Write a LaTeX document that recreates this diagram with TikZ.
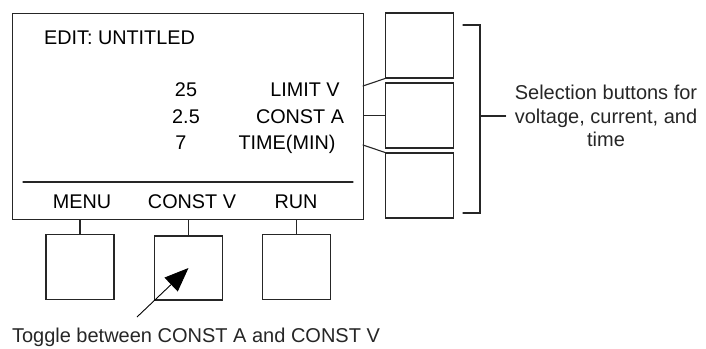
\documentclass[tikz,border=0pt]{standalone}
\usepackage{fontspec}
\setmainfont{Liberation Sans}
\usetikzlibrary{arrows.meta}

\begin{document}
\begin{tikzpicture}[x=1pt,y=-1pt]
\tikzset{
  panelbox/.style={rectangle,draw=black!85,line width=1.1pt,inner sep=0pt,anchor=north west},
  keybox/.style={rectangle,draw=black!85,line width=1.1pt,inner sep=0pt,minimum width=68pt,minimum height=65pt},
  wire/.style={draw=black!85,line width=1.1pt,line cap=round,line join=miter},
  pointer/.style={draw=black,line width=0.9pt,-{Triangle[length=24pt,width=19pt]}},
  lcdtext/.style={font=\fontsize{19.8}{22}\selectfont,text=black,inner sep=0pt,anchor=base},
  notetext/.style={font=\fontsize{20}{23.5}\selectfont,text=black!85,inner sep=0pt}
}
\useasboundingbox (0,0) rectangle (706,348);
\node[panelbox,minimum width=351pt,minimum height=206pt] (n_screen) at (12,13) {};
\node[lcdtext] (n_title) at (119.5,44) {EDIT: UNTITLED};
\node[lcdtext] (n_val_limit) at (186,96) {25};
\node[lcdtext] (n_val_curr) at (186,123) {2.5};
\node[lcdtext] (n_val_time) at (181,149) {7};
\node[lcdtext] (n_lbl_limit) at (305,96) {LIMIT V};
\node[lcdtext] (n_lbl_curr) at (300,123) {CONST A};
\node[lcdtext] (n_lbl_time) at (287,149) {TIME(MIN)};
\draw[wire] (23,182) -- (353,182);
\node[lcdtext] (n_soft_menu) at (82,208) {MENU};
\node[lcdtext] (n_soft_const) at (192,208) {CONST V};
\node[lcdtext] (n_soft_run) at (296,208) {RUN};
\node[keybox] (n_key_menu) at (80,267) {};
\node[keybox,minimum height=64pt] (n_key_const) at (188.5,268) {};
\node[keybox] (n_key_run) at (296.5,267) {};
\node[keybox] (n_key_limit) at (419.5,45.5) {};
\node[keybox] (n_key_curr) at (419.5,115.5) {};
\node[keybox] (n_key_time) at (419.5,185.5) {};
\draw[wire] (n_key_menu.north) -- (n_key_menu.north |- n_screen.south);
\draw[wire] (n_key_const.north) -- (n_key_const.north |- n_screen.south);
\draw[wire] (n_key_run.north) -- (n_key_run.north |- n_screen.south);
\coordinate (tap_limit) at (363,86);
\coordinate (tap_time) at (363,145);
\draw[wire] (tap_limit) -- (n_key_limit.south west);
\draw[wire] (n_screen.east |- n_key_curr.west) -- (n_key_curr.west);
\draw[wire] (tap_time) -- (n_key_time.north west);
% bracket round the three side keys
\node[notetext,align=center] (n_sel_note) at (606,116) {Selection buttons for\\voltage, current, and\\time};
\coordinate (brk_mid) at (480,116);
\draw[wire] (463,25) -| (brk_mid) |- (463,213);
\draw[wire] (brk_mid) -- ([xshift=-9pt]n_sel_note.west);
\node[notetext,anchor=base] (n_toggle_note) at (196,342) {Toggle between CONST A and CONST V};
\coordinate (arrow_tail) at (137,317);
\draw[pointer] (arrow_tail) -- (n_key_const.center);
\end{tikzpicture}
\end{document}
